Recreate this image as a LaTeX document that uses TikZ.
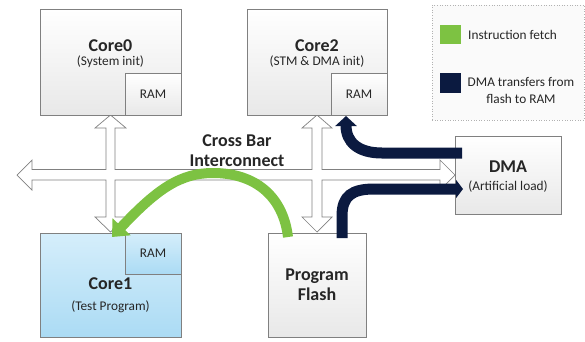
\documentclass[tikz,border=0pt]{standalone}
\usepackage{fontspec}
\setmainfont{Carlito}
\usetikzlibrary{arrows.meta}
\definecolor{edge}{HTML}{808080}
\definecolor{fetch}{HTML}{7DC242}
\definecolor{dmanavy}{HTML}{0B1A40}
\definecolor{paleblue}{HTML}{D5EEFB}
\definecolor{midblue}{HTML}{ABDBF4}
\begin{document}
\begin{tikzpicture}[x=1pt,y=-1pt,
  unit/.style={draw=edge, line width=0.8pt, top color=white, bottom color=black!9, inner sep=0pt},
  blueunit/.style={draw=edge, line width=0.8pt, top color=paleblue, bottom color=midblue, inner sep=0pt},
  title/.style={font=\fontsize{18}{21}\selectfont\bfseries, text=black!85, inner sep=0pt},
  sub/.style={font=\fontsize{13.3}{16}\selectfont, text=black!85, inner sep=0pt},
  busline/.style={draw=edge, line width=0.7pt, fill=white, line join=miter},
  fetcharrow/.style={draw=fetch, line width=10pt, -{Triangle[width=24pt,length=14pt]}},
  dmaarrow/.style={draw=dmanavy, line width=11pt}
]
\useasboundingbox (0,0) rectangle (585,341);

% crossbar outline: horizontal double arrow with four vertical branches
\path[busline]
  (17,175) -- (32,160) -- (32,169.5) -- (106,169.5) -- (106,128) -- (95,128)
  -- (110.5,115) -- (126,128) -- (115,128) -- (115,169.5) -- (312,169.5)
  -- (312,128) -- (302,128) -- (317,115) -- (332,128) -- (322,128)
  -- (322,169.5) -- (440,169.5) -- (440,160) -- (455,175) -- (440,190)
  -- (440,180) -- (322,180) -- (322,217) -- (332,217) -- (317,232)
  -- (302,217) -- (312,217) -- (312,180) -- (115,180) -- (115,217)
  -- (126,217) -- (110.5,232) -- (95,217) -- (106,217) -- (106,180)
  -- (32,180) -- (32,190) -- cycle;

\node[title, align=center] (xbar) at (237,151) {Cross Bar\\[-1pt]Interconnect};

% cores, memory and DMA
\node[unit, minimum width=141pt, minimum height=106pt] (core0) at (110.5,62) {};
\node[unit, minimum width=56pt, minimum height=42pt] (ram0) at (153,94) {};
\node[sub] (ram0t) at (ram0) {RAM};
\node[title] (core0t) at (110.5,46) {Core0};
\node[sub] (core0s) at (110.5,62) {(System init)};

\node[unit, minimum width=140pt, minimum height=106pt] (core2) at (317,62) {};
\node[unit, minimum width=56pt, minimum height=42pt] (ram2) at (359,94) {};
\node[sub] (ram2t) at (ram2) {RAM};
\node[title] (core2t) at (317,46) {Core2};
\node[sub] (core2s) at (317,62) {(STM \& DMA init)};

\node[blueunit, minimum width=141pt, minimum height=104pt] (core1) at (110.5,285) {};
\node[blueunit, minimum width=56pt, minimum height=41pt] (ram1) at (153,253.5) {};
\node[sub] (ram1t) at (ram1) {RAM};
\node[title] (core1t) at (110.5,284) {Core1};
\node[sub] (core1s) at (110.5,307) {(Test Program)};

\node[unit, minimum width=98pt, minimum height=104pt] (flash) at (317,285) {};
\node[title, align=center] (flasht) at (317,285) {Program\\[-1pt]Flash};

\node[unit, minimum width=106pt, minimum height=78pt] (dma) at (508,175) {};
\node[title] (dmat) at (508,167) {DMA};
\node[sub] (dmas) at (508,187) {(Artificial load)};

% legend
\node[draw=black!30, dotted, line width=0.6pt, fill=black!2, minimum width=152pt, minimum height=115pt] (legend) at (508,62.5) {};
\node[fill=fetch, minimum width=21pt, minimum height=19pt, inner sep=0pt] (keyfetch) at (450.5,34.5) {};
\node[sub, anchor=west] (keyfetcht) at (468,35) {Instruction fetch};
\node[fill=dmanavy, minimum width=21pt, minimum height=20pt, inner sep=0pt] (keydma) at (450.5,83) {};
\node[sub, align=center] (keydmat) at (521,90) {DMA transfers from\\[1pt]flash to RAM};

% instruction fetch: flash -> core1
\coordinate (fetchA) at (288,237);
\coordinate (fetchB) at (213,173);
\coordinate (fetchC) at (112,237);
\draw[fetcharrow] (fetchA) .. controls (283,196) and (255,173) .. (fetchB)
  .. controls (181,173) and (158,188) .. (fetchC);

% DMA transfers: flash -> DMA -> core2 RAM
\coordinate (dmaIn) at (463,189);
\coordinate (flashOut) at (342,238);
\draw[dmaarrow, -{Triangle[width=18pt,length=7pt]}] (flashOut) -- (342,216)
  .. controls (342,196) and (352,189) .. (374,189) -- (dmaIn);
\coordinate (dmaOut) at (462,153);
\coordinate (ramIn) at (346,116);
\draw[dmaarrow, -{Triangle[width=21pt,length=10pt]}] (dmaOut) -- (382,153)
  .. controls (358,153) and (346,142) .. (ramIn);
\end{tikzpicture}
\end{document}
